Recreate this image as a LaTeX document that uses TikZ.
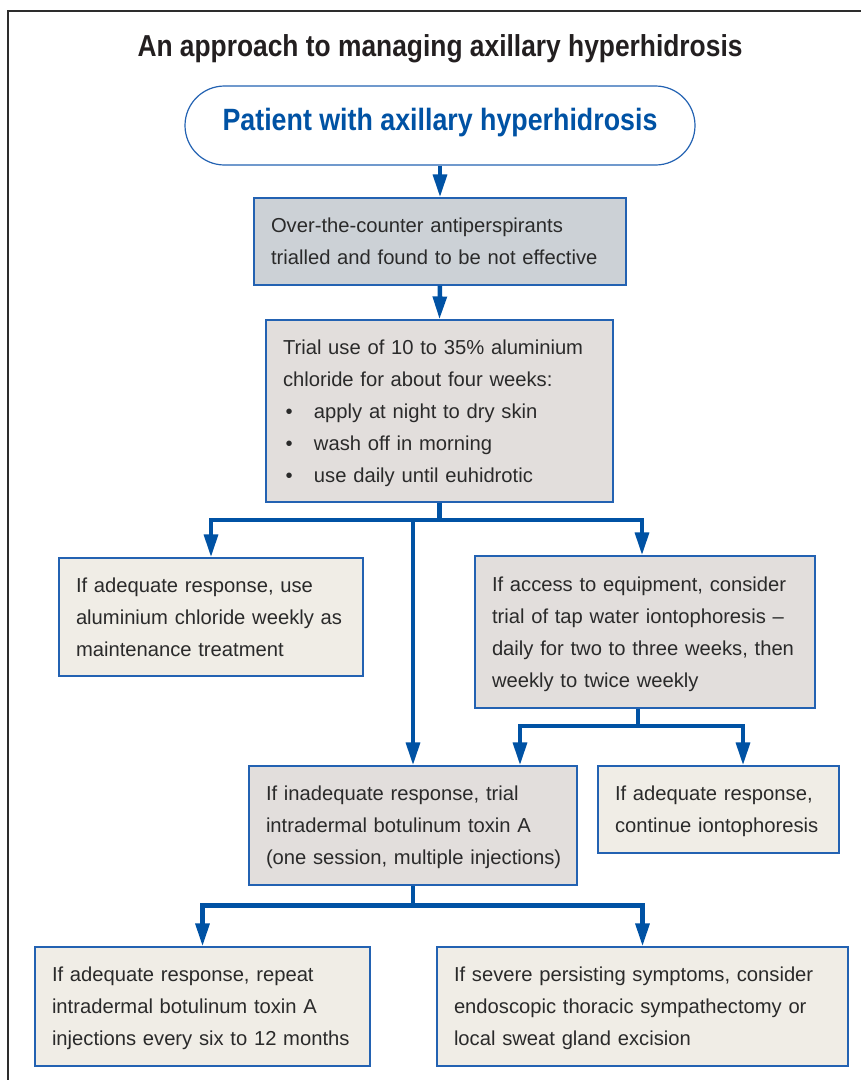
\documentclass[tikz,border=0pt]{standalone}
\usepackage{fontspec}
\setmainfont{Liberation Sans}
\newfontfamily\headfont{Liberation Sans}[FakeStretch=0.87,UprightFont={* Bold}]
\usetikzlibrary{arrows.meta}
\definecolor{flowblue}{RGB}{0,82,164}
\definecolor{edgeblue}{RGB}{35,98,178}
\definecolor{fillblue}{RGB}{204,209,214}
\definecolor{fillgray}{RGB}{226,222,220}
\definecolor{fillcream}{RGB}{240,237,230}
\definecolor{textgray}{RGB}{42,42,42}
\definecolor{titleblack}{RGB}{35,31,32}
\definecolor{framegray}{RGB}{45,45,45}
\newcommand\Ln[1]{\mbox{\rule[-9pt]{0pt}{32pt}#1}}
\newcommand\Bl[1]{\Ln{\makebox[31pt][l]{\hspace{2.5pt}\textbullet}#1}}
\tikzset{
  flow/.style={draw=flowblue, line width=4.5pt},
  arr/.style={flow, -{Triangle[length=23pt,width=13.5pt]}},
  box/.style={draw=edgeblue, line width=1.1pt, align=left, inner xsep=17pt, inner ysep=0pt,
    text=textgray, font=\fontsize{20.2}{32}\selectfont},
  stadium/.style={draw=edgeblue, line width=1.2pt, rounded corners=39.5pt, minimum width=510pt,
    minimum height=79pt, inner sep=0pt, text height=22pt, text depth=11.6pt, text=flowblue,
    font=\headfont\fontsize{30.8}{36}\selectfont},
  titletext/.style={text=titleblack, inner sep=0pt, font=\headfont\fontsize{30.3}{36}\selectfont}
}
\begin{document}
\begin{tikzpicture}[x=1pt,y=-1pt]
\useasboundingbox (0,0) rectangle (861,1080);
\draw[framegray, line width=1.7pt] (8,1090) -- (8,11) -- (870,11);

\node[titletext, anchor=base] (title) at (440,56) {An approach to managing axillary hyperhidrosis};
\node[stadium] (start) at (440,125.5) {Patient with axillary hyperhidrosis};

\node[box, fill=fillblue, text width=338pt, minimum height=87pt] (b1) at (440,241.5)
  {\Ln{Over-the-counter antiperspirants}\\\Ln{trialled and found to be not effective}};
\node[box, fill=fillgray, text width=313pt, minimum height=182pt] (b2) at (439.5,411)
  {\Ln{Trial use of 10 to 35\% aluminium}\\\Ln{chloride for about four weeks:}\\
   \Bl{apply at night to dry skin}\\\Bl{wash off in morning}\\\Bl{use daily until euhidrotic}};
\node[box, fill=fillcream, text width=270pt, minimum height=118pt] (b3) at (211,617)
  {\Ln{If adequate response, use}\\\Ln{aluminium chloride weekly as}\\\Ln{maintenance treatment}};
\node[box, fill=fillgray, text width=306pt, minimum height=152pt] (b4) at (645,632)
  {\Ln{If access to equipment, consider}\\\Ln{trial of tap water iontophoresis –}\\
   \Ln{daily for two to three weeks, then}\\\Ln{weekly to twice weekly}};
\node[box, fill=fillgray, text width=294pt, minimum height=119pt] (b5) at (413,825.5)
  {\Ln{If inadequate response, trial}\\\Ln{intradermal botulinum toxin A}\\\Ln{(one session, multiple injections)}};
\node[box, fill=fillcream, text width=207pt, minimum height=87pt] (b6) at (718.5,809.5)
  {\Ln{If adequate response,}\\\Ln{continue iontophoresis}};
\node[box, fill=fillcream, text width=301pt, minimum height=119pt] (b7) at (202.5,1006.5)
  {\Ln{If adequate response, repeat}\\\Ln{intradermal botulinum toxin A}\\\Ln{injections every six to 12 months}};
\node[box, fill=fillcream, text width=377pt, minimum height=119pt] (b8) at (642.5,1006.5)
  {\Ln{If severe persisting symptoms, consider}\\\Ln{endoscopic thoracic sympathectomy or}\\\Ln{local sweat gland excision}};

\draw[arr] (start.south) -- (b1.north);
\draw[arr] (b1.south) -- (b2.north);

\draw[flow] (b2.south) -- ++(0,17.5) coordinate (j1);
\draw[arr] (j1) -| (b3.north);
\draw[arr] (j1) -| ([xshift=-3pt]b4.north);
\draw[arr] (b5.north |- j1) -- (b5.north);

\draw[flow] ([xshift=-7pt]b4.south) -- ++(0,17.5) coordinate (j2);
\draw[arr] (j2) -| ([xshift=107pt]b5.north);
\draw[arr] (j2) -| ([xshift=24.5pt]b6.north);

\draw[flow] (b5.south) -- ++(0,20) coordinate (j3);
\draw[arr] (j3) -| (b7.north);
\draw[arr] (j3) -| (b8.north);
\end{tikzpicture}
\end{document}
